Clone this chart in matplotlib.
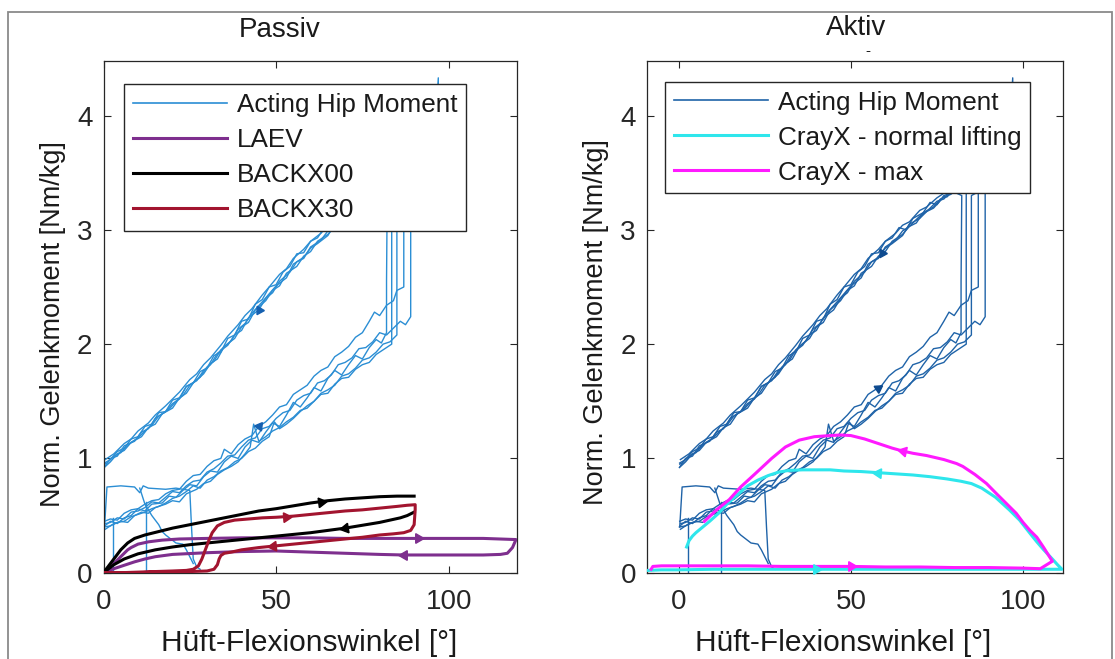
import numpy as np
import matplotlib
matplotlib.use("Agg")
from matplotlib import pyplot as plt
from matplotlib.lines import Line2D
from matplotlib.patches import Rectangle

plt.rcParams['font.family'] = ['Liberation Sans', 'DejaVu Sans']

# ---- Acting hip moment: several measured loops (angle [deg], moment [Nm/kg]) ----
hip_loop_1 = [(0.4, 0.41), (2, 0.45), (4, 0.43), (6, 0.48), (8, 0.5), (10, 0.56), (12, 0.54), (14, 0.6),
              (17, 0.61), (19, 0.67), (21, 0.66), (23, 0.72), (25, 0.77), (27, 0.76), (29, 0.84),
              (31, 0.89), (33, 0.88), (35, 0.97), (37, 1.02), (39, 1.0), (41, 1.1), (43, 1.16), (45, 1.14),
              (47, 1.23), (49, 1.31), (51, 1.28), (53, 1.38), (55, 1.49), (57, 1.45), (59, 1.53),
              (61, 1.62), (63, 1.59), (65, 1.7), (67, 1.77), (69, 1.73), (71, 1.82), (73, 1.9), (75, 1.87),
              (77, 1.97), (79, 2.04), (80.5, 2.01), (82, 2.1), (82, 2.55), (82.2, 3.3),
              (80, 3.33), (77, 3.3), (75, 3.22), (73, 3.24), (71, 3.15), (68, 3.1), (66, 3.0), (64, 3.02),
              (62, 2.93), (60, 2.9), (58, 2.8), (56, 2.79), (54, 2.68), (52, 2.63), (50, 2.52), (48, 2.5),
              (46, 2.39), (44, 2.35), (42, 2.22), (40, 2.2), (38, 2.08), (36, 2.05), (34, 1.93), (32, 1.9),
              (30, 1.79), (28, 1.76), (26, 1.66), (24, 1.63), (22, 1.53), (20, 1.51), (18, 1.41), (16, 1.4),
              (14, 1.3), (12, 1.28), (10, 1.19), (8, 1.17), (6, 1.09), (4, 1.06), (2, 0.99), (0.3, 0.96)]
hip_loop_2 = [(0.5, 0.38), (2.5, 0.42), (5, 0.45), (7, 0.44), (9, 0.5), (11, 0.53), (13, 0.52),
              (15, 0.57), (18, 0.6), (20, 0.63), (22, 0.62), (24, 0.69), (27, 0.73), (29, 0.78), (31, 0.8),
              (33, 0.86), (35, 0.9), (37, 0.93), (39, 0.97), (41, 1.04), (42.5, 1.1), (43.5, 1.3),
              (45, 1.15), (47, 1.19), (49, 1.24), (51, 1.27), (53, 1.32), (55, 1.36), (57, 1.42),
              (59, 1.44), (61, 1.5), (63, 1.56), (65, 1.57), (67, 1.65), (69, 1.7), (71, 1.71), (73, 1.78),
              (75, 1.82), (77, 1.84), (79, 1.91), (81, 1.95), (83.5, 2.0), (83.5, 2.7), (83.5, 3.35),
              (81, 3.38), (78, 3.34), (75, 3.28), (72, 3.2), (70, 3.17), (67, 3.07), (65, 3.04), (63, 2.97),
              (60, 2.9), (58, 2.83), (55, 2.75), (53, 2.66), (51, 2.61), (48, 2.5), (46, 2.43), (43, 2.31),
              (41, 2.25), (39, 2.17), (36, 2.07), (34, 1.99), (31, 1.88), (29, 1.82), (27, 1.74), (25, 1.69),
              (22, 1.58), (20, 1.52), (18, 1.46), (15, 1.38), (13, 1.31), (10, 1.24), (8, 1.17), (6, 1.13),
              (3, 1.04), (0.5, 0.99)]
hip_loop_3 = [(0.3, 0.45), (2, 0.47), (4, 0.46), (6, 0.52), (8, 0.55), (10, 0.56), (12, 0.6), (14, 0.63),
              (16, 0.64), (18, 0.69), (20, 0.72), (22, 0.73), (24, 0.8), (26, 0.85), (28, 0.86), (30, 0.93),
              (32, 0.98), (34, 1.0), (35, 1.08), (37, 1.04), (39, 1.12), (41, 1.17), (43, 1.2), (45, 1.28),
              (47, 1.32), (49, 1.38), (51, 1.45), (53, 1.47), (55, 1.56), (57, 1.6), (59, 1.64),
              (61, 1.72), (63, 1.77), (65, 1.8), (67, 1.89), (69, 1.93), (71, 1.98), (73, 2.06), (75, 2.1),
              (77, 2.2), (78.5, 2.28), (80, 2.25), (82, 2.34), (84, 2.38), (85, 2.47), (87, 2.5), (87, 3.4),
              (84, 3.42), (81, 3.37), (79, 3.34), (77, 3.27), (75, 3.25), (72, 3.16), (70, 3.12), (67, 3.03),
              (65, 2.99), (63, 2.91), (60, 2.85), (58, 2.75), (56, 2.72), (54, 2.63), (51, 2.55), (49, 2.45),
              (47, 2.4), (45, 2.3), (42, 2.23), (40, 2.12), (38, 2.08), (36, 1.99), (33, 1.92), (31, 1.82),
              (29, 1.77), (27, 1.68), (24, 1.63), (22, 1.52), (20, 1.48), (18, 1.41), (15, 1.35), (13, 1.26),
              (11, 1.23), (9, 1.15), (6, 1.11), (4, 1.02), (2, 1.0), (0.4, 0.93)]
hip_loop_4 = [(0.6, 0.43), (2, 0.44), (4, 0.48), (6, 0.47), (8, 0.53), (10, 0.54), (12, 0.57), (14, 0.62),
              (16, 0.61), (18, 0.66), (20, 0.71), (22, 0.7), (24, 0.76), (26, 0.8), (28, 0.81), (30, 0.88),
              (32, 0.91), (34, 0.96), (36, 1.02), (38, 1.03), (40, 1.1), (42, 1.16), (44, 1.18), (46, 1.26),
              (48, 1.28), (50, 1.35), (52, 1.4), (54, 1.42), (56, 1.51), (58, 1.55), (60, 1.57), (62, 1.66),
              (64, 1.68), (66, 1.73), (68, 1.82), (70, 1.84), (72, 1.88), (74, 1.96), (76, 1.97),
              (78, 2.02), (80, 2.1), (82, 2.08), (84, 2.14), (86, 2.2), (87.5, 2.17), (89, 2.24), (89, 3.38),
              (86, 3.42), (83, 3.4), (80, 3.36), (78, 3.29), (76, 3.27), (74, 3.2), (71, 3.15), (69, 3.06),
              (67, 3.03), (65, 2.96), (62, 2.9), (60, 2.81), (58, 2.77), (56, 2.68), (53, 2.62), (51, 2.51),
              (49, 2.47), (47, 2.38), (44, 2.3), (42, 2.19), (40, 2.15), (38, 2.05), (35, 1.98), (33, 1.87),
              (31, 1.83), (29, 1.74), (26, 1.66), (24, 1.57), (22, 1.53), (20, 1.44), (17, 1.39), (15, 1.3),
              (13, 1.27), (11, 1.19), (8, 1.14), (6, 1.07), (4, 1.04), (2, 0.97), (0.2, 0.92)]
hip_loop_5 = [(0.2, 0.4), (2, 0.41), (4, 0.44), (6, 0.45), (8, 0.49), (10, 0.51), (12, 0.53), (14, 0.56),
              (16, 0.58), (18, 0.61), (20, 0.65), (22, 0.67), (24, 0.71), (26, 0.76), (28, 0.74), (30, 0.81),
              (32, 0.84), (34, 0.89), (36, 0.92), (38, 0.97), (40, 1.0), (42, 1.06), (44, 1.09), (46, 1.15),
              (48, 1.19), (49.5, 1.32), (51, 1.26), (53, 1.3), (55, 1.35), (57, 1.41), (59, 1.46), (61, 1.5),
              (63, 1.57), (65, 1.6), (67, 1.64), (69, 1.72), (71, 1.74), (73, 1.79), (75, 1.86), (77, 1.88),
              (79, 1.93), (81, 2.0), (83, 2.02), (85, 2.08), (85, 3.3), (90, 3.38), (97, 3.5), (97, 4.33),
              (96.5, 4.1), (90, 3.45), (85, 3.44), (82, 3.38),
              (79, 3.31), (77, 3.29), (74, 3.19), (72, 3.16), (70, 3.1), (67, 3.05), (65, 2.95), (62, 2.88),
              (60, 2.84), (58, 2.76), (55, 2.7), (53, 2.58), (50, 2.51), (48, 2.44), (46, 2.37), (43, 2.27),
              (41, 2.18), (39, 2.13), (37, 2.03), (34, 1.95), (32, 1.85), (30, 1.8), (28, 1.71), (25, 1.64),
              (23, 1.55), (21, 1.5), (19, 1.43), (16, 1.37), (14, 1.29), (12, 1.24), (10, 1.18), (7, 1.12),
              (5, 1.05), (3, 1.02), (1, 0.96), (0.3, 0.95)]
# start-up / set-down segments near 0 deg
hip_box = [(0.3, 0.40), (1.0, 0.75), (5, 0.76), (9, 0.75), (10.5, 0.7), (11.5, 0.76), (13, 0.74),
           (18, 0.73), (21, 0.74), (25, 0.72), (25.5, 0.4), (26, 0.12), (27, 0.05), (28, 0.03)]
hip_drop = [(10.5, 0.74), (12, 0.6), (14, 0.5), (16, 0.42), (17, 0.36), (18, 0.33), (21, 0.26),
            (23, 0.25), (24, 0.2), (26, 0.08)]
hip_vert_1 = [(2.7, 0.48), (2.7, 0.0)]
hip_vert_2 = [(12.3, 0.62), (12.3, 0.0)]

# ---- passive exoskeletons ----
laev_x = [0, 1, 2, 3, 4, 5, 6, 7, 8, 10, 13, 17, 22, 30, 40, 50, 60, 70, 80, 90, 100, 110, 119.5,
          118.5, 117, 115, 110, 100, 90, 87, 80, 70, 60, 50, 40, 30, 20, 15, 12, 9, 6, 3, 1, 0]
laev_y = [0, 0.02, 0.05, 0.08, 0.11, 0.14, 0.17, 0.2, 0.22, 0.25, 0.27, 0.285, 0.295, 0.3, 0.305, 0.305,
          0.305, 0.3, 0.3, 0.3, 0.3, 0.3, 0.29,
          0.22, 0.17, 0.16, 0.155, 0.155, 0.155, 0.155, 0.16, 0.17, 0.18, 0.19, 0.185, 0.175, 0.16, 0.14,
          0.12, 0.095, 0.065, 0.035, 0.01, 0]

backx00_up_x = [0, 1, 2, 3, 4, 5, 6, 7, 8, 9, 12, 16, 20, 25, 30, 35, 40, 45, 50, 55, 60, 65, 70, 75,
                80, 85, 90]
backx00_up_y = [0, 0.04, 0.08, 0.12, 0.16, 0.2, 0.23, 0.26, 0.28, 0.3, 0.33, 0.36, 0.39, 0.42, 0.45,
                0.48, 0.51, 0.54, 0.56, 0.585, 0.61, 0.63, 0.645, 0.655, 0.665, 0.67, 0.67]
backx00_down_x = [90, 88, 86, 83, 80, 75, 70, 65, 60, 55, 50, 45, 40, 35, 30, 25, 20, 15, 10, 6, 3, 0]
backx00_down_y = [0.53, 0.5, 0.48, 0.46, 0.44, 0.415, 0.39, 0.37, 0.35, 0.335, 0.32, 0.305, 0.29, 0.275,
                  0.26, 0.245, 0.225, 0.2, 0.165, 0.12, 0.07, 0.0]

backx30_x = [0, 5, 10, 15, 20, 24, 26, 27.5, 28.5, 29.5, 30.5, 31.5, 33, 35, 38, 42, 46, 50, 55, 60, 65,
             70, 75, 80, 85, 88, 90.3, 90.3, 90, 89, 87, 84, 80, 75, 70, 65, 60, 55, 50, 45, 40, 37, 35,
             34, 33.5, 33, 32, 30, 25, 20, 15, 10, 5, 0]
backx30_y = [0, 0, 0.005, 0.01, 0.015, 0.02, 0.03, 0.06, 0.12, 0.2, 0.28, 0.35, 0.41, 0.44, 0.46, 0.47,
             0.48, 0.485, 0.495, 0.51, 0.525, 0.54, 0.55, 0.565, 0.58, 0.59, 0.595, 0.55, 0.42, 0.37,
             0.35, 0.34, 0.33, 0.31, 0.295, 0.28, 0.265, 0.25, 0.235, 0.22, 0.2, 0.18, 0.17, 0.15, 0.12,
             0.07, 0.03, 0.015, 0.01, 0.005, 0.005, 0, 0, 0]

# ---- active exoskeleton (CrayX) ----
crayx_normal_x = [-9, -5, 0, 10, 20, 30, 40, 50, 60, 70, 80, 90, 100, 105, 108, 111.3,
                  110, 108.5, 106, 104, 102, 99, 96, 92, 88, 85, 82, 78, 73, 68, 63, 58, 53, 48, 44,
                  40, 36, 32, 29, 26, 23, 20, 17, 14, 11.6, 9, 7, 5, 4, 3, 2.3]
crayx_normal_y = [0.02, 0.025, 0.025, 0.03, 0.03, 0.03, 0.03, 0.03, 0.03, 0.03, 0.03, 0.03, 0.03, 0.03,
                  0.03, 0.03,
                  0.07, 0.12, 0.2, 0.27, 0.345, 0.46, 0.55, 0.66, 0.74, 0.78, 0.8, 0.82, 0.84, 0.855,
                  0.865, 0.875, 0.885, 0.89, 0.9, 0.9, 0.9, 0.895, 0.88, 0.85, 0.81, 0.76, 0.68, 0.6,
                  0.52, 0.45, 0.4, 0.35, 0.32, 0.28, 0.225]
crayx_max_x = [-8, -7.5, -5, 0, 10, 20, 30, 40, 50, 60, 70, 80, 90, 100, 105, 108.5,
               106, 104, 102, 100, 98, 95, 92, 89.4, 86, 82.5, 80.7, 77, 72, 68, 65, 62, 58, 54, 50,
               47, 44, 39.4, 35, 31, 27, 22, 18, 14.7, 11, 7.5]
crayx_max_y = [0.03, 0.055, 0.06, 0.06, 0.06, 0.06, 0.055, 0.055, 0.055, 0.05, 0.05, 0.045, 0.045, 0.04,
               0.035, 0.1,
               0.22, 0.31, 0.37, 0.44, 0.52, 0.61, 0.7, 0.78, 0.86, 0.93, 0.955, 0.99, 1.025, 1.045,
               1.065, 1.09, 1.13, 1.17, 1.2, 1.205, 1.2, 1.19, 1.16, 1.1, 1.0, 0.86, 0.75, 0.64, 0.55,
               0.45]

hip_loops = [hip_loop_1, hip_loop_2, hip_loop_3, hip_loop_4, hip_loop_5]
hip_extra = [hip_box, hip_drop, hip_vert_1, hip_vert_2]

W, H = 1115, 659


def fx(px):
    return px / W


def fy(py):
    return 1 - py / H


def add_arrow(ax, xs, ys, x_target, part, color, ms=8):
    """Triangle on the curve where it passes x_target, pointing along the path."""
    xs = np.asarray(xs, float)
    ys = np.asarray(ys, float)
    turn = int(np.argmax(xs)) if part in ('out', 'back') else int(np.argmax(ys))
    if part in ('out', 'up'):
        idx = range(0, turn)
    elif part in ('back', 'down'):
        idx = range(turn, len(xs) - 1)
    else:
        idx = range(0, len(xs) - 1)
    hits = [i for i in idx if min(xs[i], xs[i + 1]) <= x_target <= max(xs[i], xs[i + 1])
            and xs[i] != xs[i + 1]]
    if hits:
        best = hits[0]
        t = (x_target - xs[best]) / (xs[best + 1] - xs[best])
    else:
        best = min(idx, key=lambda i: abs((xs[i] + xs[i + 1]) / 2 - x_target))
        t = 0.5
    p0 = ax.transData.transform((xs[best], ys[best]))
    p1 = ax.transData.transform((xs[best + 1], ys[best + 1]))
    ang = np.degrees(np.arctan2(p1[1] - p0[1], p1[0] - p0[0]))
    xm = xs[best] + t * (xs[best + 1] - xs[best])
    ym = ys[best] + t * (ys[best + 1] - ys[best])
    ax.plot(xm, ym, marker=(3, 0, ang - 90), ms=ms, color=color, mec=color, zorder=6, clip_on=False)


def draw_hip(ax, color, arrow_color, up_x, down_x):
    for loop in hip_loops + hip_extra:
        xs, ys = zip(*loop)
        ax.plot(xs, ys, color=color, lw=1.0, zorder=2)
    xs, ys = zip(*hip_loop_3)
    add_arrow(ax, xs, ys, up_x, 'up', arrow_color, ms=7)
    add_arrow(ax, xs, ys, down_x, 'down', arrow_color, ms=7)


def style_axes(ax, xlim):
    ax.set_xlim(*xlim)
    ax.set_ylim(0, 4.48)
    ax.set_xticks([0, 50, 100])
    ax.set_yticks([0, 1, 2, 3, 4])
    ax.tick_params(direction='in', length=5, width=0.8, top=True, right=True,
                   labelsize=20, colors='#262626')
    ax.tick_params(axis='x', pad=12)
    ax.tick_params(axis='y', pad=8)
    for s in ax.spines.values():
        s.set_color('#262626')
        s.set_linewidth(0.9)


def make_legend(ax, handles, labels, anchor):
    leg = ax.legend(handles, labels, loc='upper left', bbox_to_anchor=anchor, borderaxespad=0,
                    fontsize=18.8, handlelength=3.6, handletextpad=0.38, labelspacing=0.42,
                    borderpad=0.34, fancybox=False, edgecolor='#262626', framealpha=1)
    leg.get_frame().set_linewidth(1.0)
    leg.set_zorder(10)
    for t in leg.get_texts():
        t.set_color('#1a1a1a')


fig = plt.figure(figsize=(W / 100, H / 100), dpi=100)

blue_light = '#2b8ed4'
blue_dark = '#1f63a8'
purple = '#7E2F8E'
red = '#A2142F'
cyan = '#2EE6EC'
magenta = '#FF1AFF'

# ---------------- Passiv ----------------
ax1 = fig.add_axes([fx(103.5), fy(572.7), fx(517) - fx(103.5), fy(60.7) - fy(572.7)])
style_axes(ax1, (0, 119.8))
draw_hip(ax1, blue_light, '#1560b0', 45, 45)
ax1.plot(laev_x, laev_y, color=purple, lw=2.2, zorder=4)
ax1.plot(backx00_up_x, backx00_up_y, color='black', lw=2.2, zorder=4)
ax1.plot(backx00_down_x, backx00_down_y, color='black', lw=2.2, zorder=4)
ax1.plot(backx30_x, backx30_y, color=red, lw=2.2, zorder=4)
add_arrow(ax1, laev_x, laev_y, 91, 'out', purple)
add_arrow(ax1, laev_x, laev_y, 87, 'back', purple)
add_arrow(ax1, backx00_up_x, backx00_up_y, 63, 'all', 'black')
add_arrow(ax1, backx00_down_x, backx00_down_y, 70, 'all', 'black')
add_arrow(ax1, backx30_x, backx30_y, 53, 'out', red)
add_arrow(ax1, backx30_x, backx30_y, 49, 'back', red)

make_legend(ax1,
            [Line2D([], [], color=blue_light, lw=1.2), Line2D([], [], color=purple, lw=2.2),
             Line2D([], [], color='black', lw=2.2), Line2D([], [], color=red, lw=2.2)],
            ['Acting Hip Moment', 'LAEV', 'BACKX00', 'BACKX30'], (0.049, 0.9545))

# ---------------- Aktiv ----------------
ax2 = fig.add_axes([fx(647), fy(572.7), fx(1063) - fx(647), fy(60.7) - fy(572.7)])
style_axes(ax2, (-9.2, 111.6))
draw_hip(ax2, blue_dark, '#0d4a8f', 58, 59)
ax2.plot(crayx_normal_x, crayx_normal_y, color=cyan, lw=2.2, zorder=4)
ax2.plot(crayx_max_x, crayx_max_y, color=magenta, lw=2.2, zorder=5)
add_arrow(ax2, crayx_normal_x, crayx_normal_y, 40, 'out', cyan)
add_arrow(ax2, crayx_normal_x, crayx_normal_y, 58, 'back', cyan)
add_arrow(ax2, crayx_max_x, crayx_max_y, 50, 'out', magenta)
add_arrow(ax2, crayx_max_x, crayx_max_y, 65, 'back', magenta)

make_legend(ax2,
            [Line2D([], [], color=blue_dark, lw=1.2), Line2D([], [], color=cyan, lw=2.2),
             Line2D([], [], color=magenta, lw=2.2)],
            ['Acting Hip Moment', 'CrayX - normal lifting', 'CrayX - max'], (0.043, 0.959))

# ---------------- texts ----------------
txt = dict(color='#1a1a1a')
fig.text(fx(280), fy(30), 'Passiv', fontsize=20, ha='center', va='center', **txt)
fig.text(fx(856), fy(28), 'Aktiv', fontsize=20, ha='center', va='center', **txt)
fig.text(fx(868), fy(51), '-', fontsize=11, ha='center', va='center', **txt)
fig.text(fx(309), fy(651), 'Hüft-Flexionswinkel [°]', fontsize=21.5, ha='center', va='baseline', **txt)
fig.text(fx(843), fy(651), 'Hüft-Flexionswinkel [°]', fontsize=21.5, ha='center', va='baseline', **txt)
fig.text(fx(53), fy(324), 'Norm. Gelenkmoment [Nm/kg]', fontsize=19.5, rotation=90,
         ha='center', va='center', **txt)
fig.text(fx(596), fy(322), 'Norm. Gelenkmoment [Nm/kg]', fontsize=19.5, rotation=90,
         ha='center', va='center', **txt)

# outer frame of the picture
fig.add_artist(Rectangle((fx(7.5), -0.05), fx(1112) - fx(7.5), fy(12) + 0.05,
                         transform=fig.transFigure, fill=False, edgecolor='#8a8a8a', lw=1.3))

fig.savefig('out.png', dpi=100)
